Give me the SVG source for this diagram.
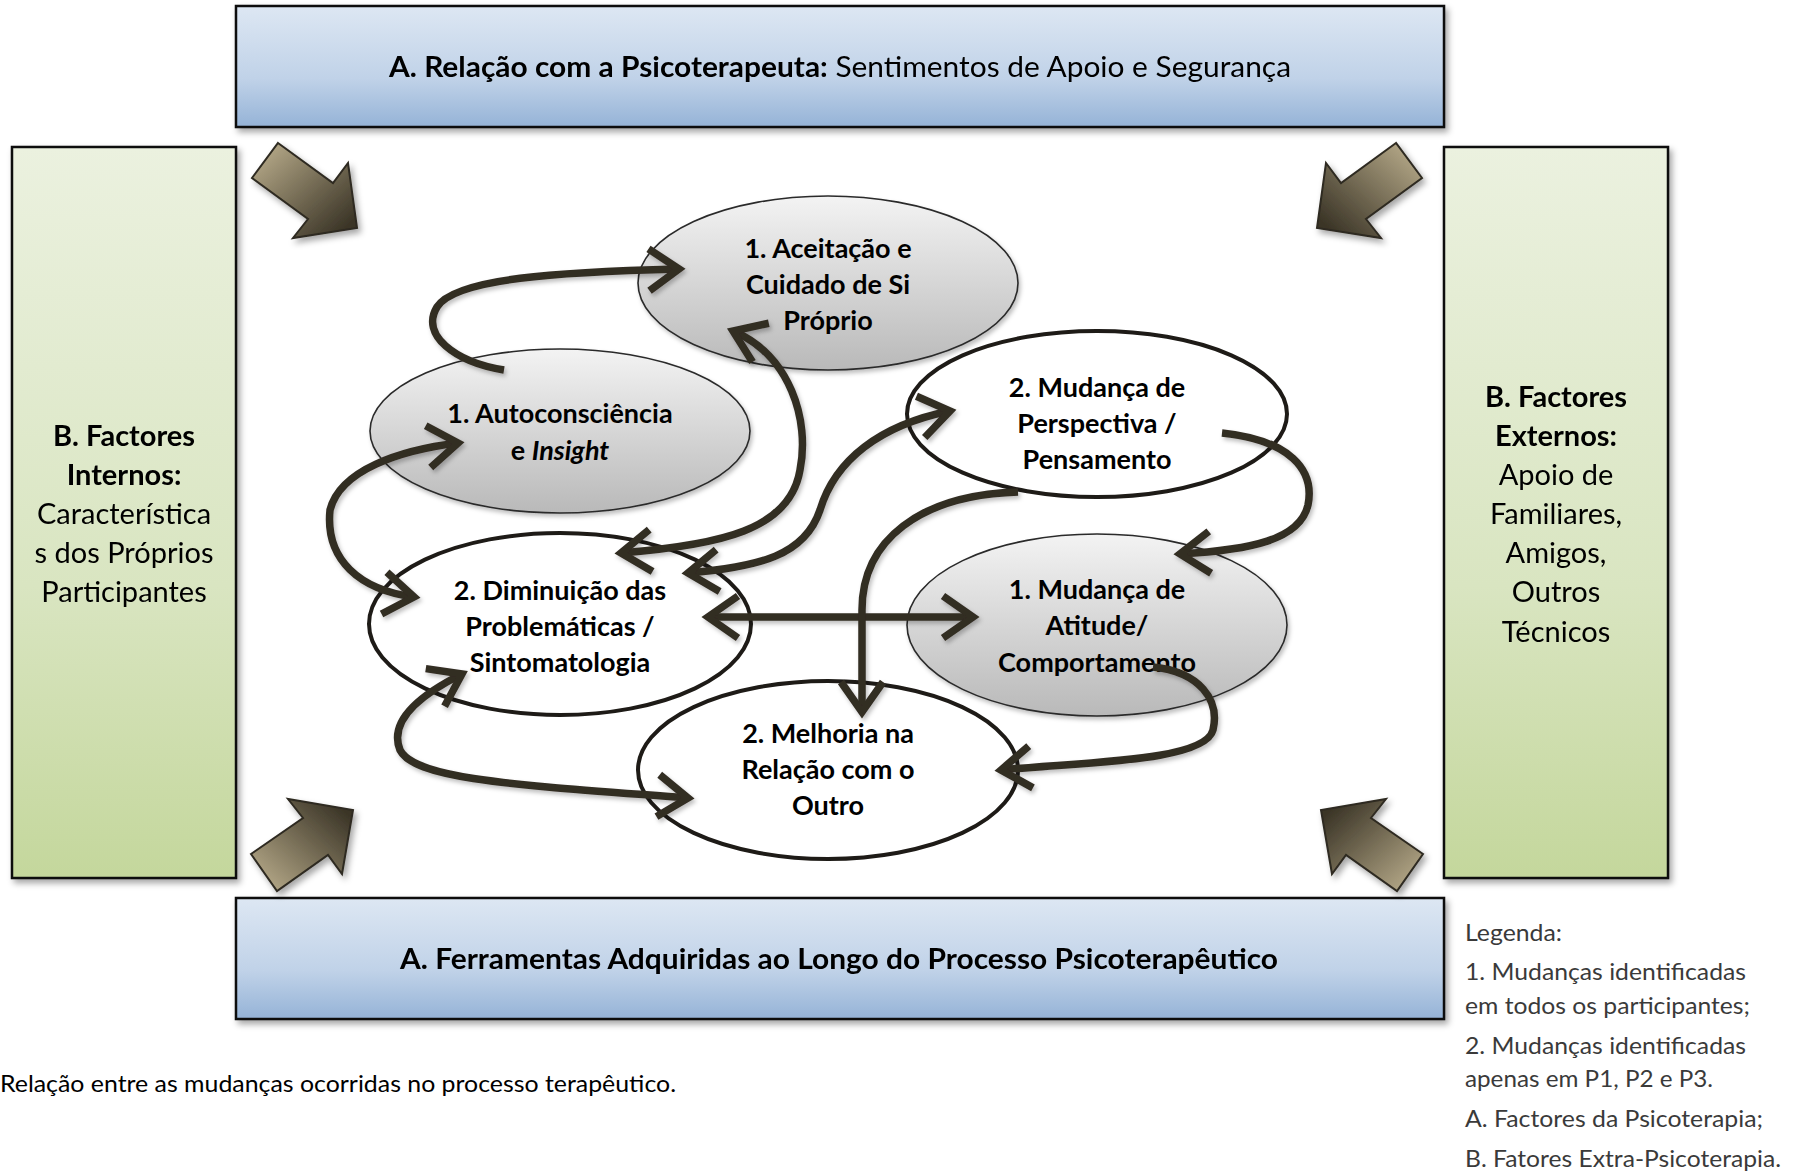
<svg xmlns="http://www.w3.org/2000/svg" width="1804" height="1171" viewBox="0 0 1804 1171">
<style>
.bar{stroke:#111;stroke-width:2.5}
.side{stroke:#111;stroke-width:2.5}
.blk{stroke:#2e2a20;stroke-width:2}
.eg{fill:url(#gGray);stroke:#2a2a2a;stroke-width:1.6}
.ew{fill:#fff;stroke:#1e1b17;stroke-width:4}
.con{fill:none;stroke:#332d24;stroke-width:7.5;marker-end:url(#chev)}
.dbl{marker-start:url(#chev)}
.t{font-family:Lato,"Open Sans","Liberation Sans",sans-serif;fill:#000}
.tb{font-weight:bold;font-size:27px;text-anchor:middle}
.ts{font-size:29px;text-anchor:middle}
.lg{font-family:Lato,"Open Sans","Liberation Sans",sans-serif;font-size:24px;fill:#3a3a3a}
</style>
<defs>
<linearGradient id="gBlue" x1="0" y1="0" x2="0" y2="1"><stop offset="0" stop-color="#dde7f3"/><stop offset="0.6" stop-color="#c0d2e8"/><stop offset="1" stop-color="#95b3d7"/></linearGradient>
<linearGradient id="gGreen" x1="0" y1="0" x2="0" y2="1"><stop offset="0" stop-color="#ebf1df"/><stop offset="0.6" stop-color="#d9e5c1"/><stop offset="1" stop-color="#c4d79c"/></linearGradient>
<linearGradient id="gGray" x1="0" y1="0" x2="0" y2="1"><stop offset="0" stop-color="#f3f3f3"/><stop offset="1" stop-color="#b9b9b9"/></linearGradient>
<linearGradient id="aTL" x1="0" y1="0" x2="1" y2="1"><stop offset="0.15" stop-color="#ab9f80"/><stop offset="0.9" stop-color="#3a3426"/></linearGradient>
<linearGradient id="aTR" x1="1" y1="0" x2="0" y2="1"><stop offset="0.15" stop-color="#ab9f80"/><stop offset="0.9" stop-color="#3a3426"/></linearGradient>
<linearGradient id="aBL" x1="0" y1="1" x2="1" y2="0"><stop offset="0.15" stop-color="#ab9f80"/><stop offset="0.9" stop-color="#3a3426"/></linearGradient>
<linearGradient id="aBR" x1="1" y1="1" x2="0" y2="0"><stop offset="0.15" stop-color="#ab9f80"/><stop offset="0.9" stop-color="#3a3426"/></linearGradient>
<filter id="sh" x="-10%" y="-10%" width="130%" height="130%"><feDropShadow dx="3" dy="4" stdDeviation="3" flood-color="#000" flood-opacity="0.35"/></filter>
<filter id="shs" x="-10%" y="-10%" width="130%" height="130%"><feDropShadow dx="2" dy="3" stdDeviation="2" flood-color="#000" flood-opacity="0.25"/></filter>
<marker id="chev" markerUnits="userSpaceOnUse" viewBox="-45 -32 55 64" markerWidth="55" markerHeight="64" refX="0" refY="0" orient="auto-start-reverse">
<path d="M-30,-21 L0,0 L-30,21" fill="none" stroke="#332d24" stroke-width="7.5" stroke-linejoin="miter"/>
</marker>
</defs>
<rect width="1804" height="1171" fill="#fff"/>

<g id="topBar" filter="url(#sh)">
<rect class="bar" x="236" y="6" width="1208" height="121" fill="url(#gBlue)"/>
<text class="t" x="389" y="77" font-size="28" textLength="902" lengthAdjust="spacingAndGlyphs"><tspan font-weight="bold">A. Relação com a Psicoterapeuta:</tspan> Sentimentos de Apoio e Segurança</text>
</g>
<g id="bottomBar" filter="url(#sh)">
<rect class="bar" x="236" y="898" width="1208" height="121" fill="url(#gBlue)"/>
<text class="t" x="400" y="969" font-size="28" font-weight="bold" textLength="878" lengthAdjust="spacingAndGlyphs">A. Ferramentas Adquiridas ao Longo do Processo Psicoterapêutico</text>
</g>
<g id="leftBox" filter="url(#sh)">
<rect class="side" x="12" y="147" width="224" height="731" fill="url(#gGreen)"/>
<text class="t ts"><tspan x="124" y="446" font-weight="bold">B. Factores</tspan><tspan x="124" y="485" font-weight="bold">Internos:</tspan><tspan x="124" y="524">Característica</tspan><tspan x="124" y="563">s dos Próprios</tspan><tspan x="124" y="602">Participantes</tspan></text>
</g>
<g id="rightBox" filter="url(#sh)">
<rect class="side" x="1444" y="147" width="224" height="731" fill="url(#gGreen)"/>
<text class="t ts"><tspan x="1556" y="407" font-weight="bold">B. Factores</tspan><tspan x="1556" y="446" font-weight="bold">Externos:</tspan><tspan x="1556" y="485">Apoio de</tspan><tspan x="1556" y="524">Familiares,</tspan><tspan x="1556" y="563">Amigos,</tspan><tspan x="1556" y="602">Outros</tspan><tspan x="1556" y="642">Técnicos</tspan></text>
</g>

<g id="blockArrows" filter="url(#sh)">
<polygon class="blk" fill="url(#aTL)" points="278,143 333,183 348,163 357,228 293,238 308,219 252,178"/>
<polygon class="blk" fill="url(#aTR)" points="1396,143 1341,183 1326,163 1317,228 1381,238 1366,219 1422,178"/>
<polygon class="blk" fill="url(#aBL)" points="251,854 303,818 288,799 353,810 342,874 328,855 277,891"/>
<polygon class="blk" fill="url(#aBR)" points="1423,854 1371,818 1386,799 1321,810 1332,874 1346,855 1397,891"/>
</g>

<g id="n-aceitacao">
<ellipse class="eg" cx="828" cy="283" rx="190" ry="87" filter="url(#shs)"/>
<text class="t tb"><tspan x="828" y="258">1. Aceitação e</tspan><tspan x="828" y="294">Cuidado de Si</tspan><tspan x="828" y="330">Próprio</tspan></text>
</g>
<g id="n-autoconsciencia">
<ellipse class="eg" cx="560" cy="431" rx="190" ry="82" filter="url(#shs)"/>
<text class="t tb"><tspan x="560" y="423">1. Autoconsciência</tspan><tspan x="560" y="460">e <tspan font-style="italic">Insight</tspan></tspan></text>
</g>
<g id="n-perspectiva">
<ellipse class="ew" cx="1097" cy="414" rx="190" ry="83"/>
<text class="t tb"><tspan x="1097" y="397">2. Mudança de</tspan><tspan x="1097" y="433">Perspectiva /</tspan><tspan x="1097" y="469">Pensamento</tspan></text>
</g>
<g id="n-diminuicao">
<ellipse class="ew" cx="560" cy="624" rx="191" ry="91"/>
<text class="t tb"><tspan x="560" y="600">2. Diminuição das</tspan><tspan x="560" y="636">Problemáticas /</tspan><tspan x="560" y="672">Sintomatologia</tspan></text>
</g>
<g id="n-atitude">
<ellipse class="eg" cx="1097" cy="625" rx="190" ry="91" filter="url(#shs)"/>
<text class="t tb"><tspan x="1097" y="599">1. Mudança de</tspan><tspan x="1097" y="635">Atitude/</tspan><tspan x="1097" y="672">Comportamento</tspan></text>
</g>
<g id="n-melhoria">
<ellipse class="ew" cx="828" cy="770" rx="190" ry="89"/>
<text class="t tb"><tspan x="828" y="743">2. Melhoria na</tspan><tspan x="828" y="779">Relação com o</tspan><tspan x="828" y="815">Outro</tspan></text>
</g>

<g id="connectors" filter="url(#shs)">
<path class="con" d="M504,370 C455,362 420,335 437,307 C455,278 560,272 679,269"/>
<path class="con dbl" d="M733,331 C790,355 810,420 800,470 C790,530 720,545 621,553"/>
<path class="con dbl" d="M950,411 C880,425 835,460 820,510 C805,555 760,567 688,573"/>
<path class="con dbl" d="M708,617 L973,617"/>
<path class="con" d="M1018,492 C920,495 862,540 862,610 L862,712"/>
<path class="con" d="M1222,433 C1290,440 1315,470 1308,505 C1300,540 1250,550 1180,554"/>
<path class="con" d="M1153,667 C1200,672 1220,700 1213,730 C1205,762 1080,762 1001,770"/>
<path class="con dbl" d="M462,674 C410,700 390,725 400,750 C415,780 520,785 688,798"/>
<path class="con dbl" d="M458,443 C400,450 340,470 330,510 C325,560 360,590 414,597"/>
</g>

<g id="legend">
<text class="lg" x="1465" y="941" textLength="97" lengthAdjust="spacingAndGlyphs">Legenda:</text>
<text class="lg" x="1465" y="980" textLength="281" lengthAdjust="spacingAndGlyphs">1. Mudanças identificadas</text>
<text class="lg" x="1465" y="1014" textLength="285" lengthAdjust="spacingAndGlyphs">em todos os participantes;</text>
<text class="lg" x="1465" y="1054" textLength="281" lengthAdjust="spacingAndGlyphs">2. Mudanças identificadas</text>
<text class="lg" x="1465" y="1087" textLength="248" lengthAdjust="spacingAndGlyphs">apenas em P1, P2 e P3.</text>
<text class="lg" x="1465" y="1127" textLength="298" lengthAdjust="spacingAndGlyphs">A. Factores da Psicoterapia;</text>
<text class="lg" x="1465" y="1167" textLength="316" lengthAdjust="spacingAndGlyphs">B. Fatores Extra-Psicoterapia.</text>
</g>
<text id="caption" class="t" x="0" y="1092" font-size="23" textLength="676" lengthAdjust="spacingAndGlyphs">Relação entre as mudanças ocorridas no processo terapêutico.</text>
</svg>
